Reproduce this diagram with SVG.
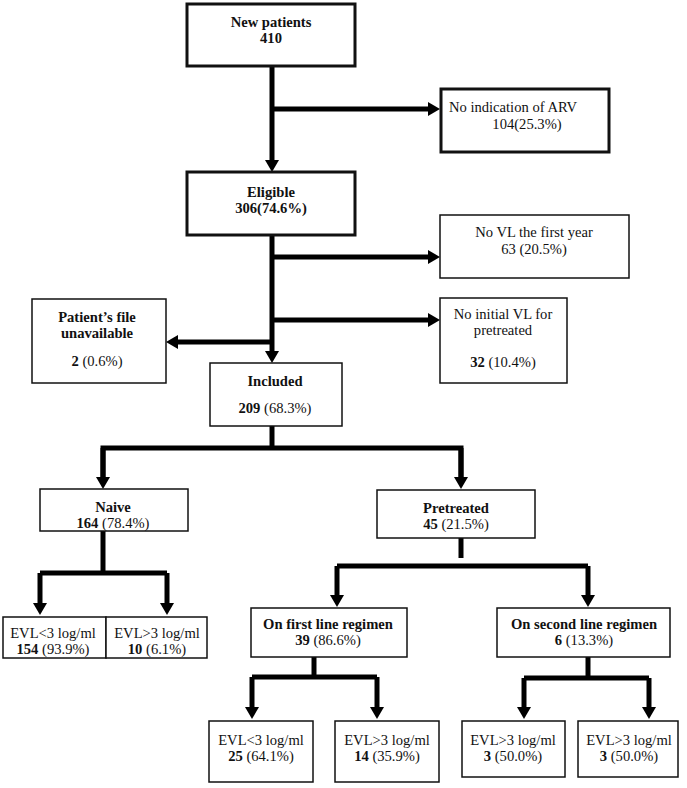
<svg xmlns="http://www.w3.org/2000/svg" width="687" height="788" viewBox="0 0 687 788">
<style>
  .box{fill:#fff;stroke:#111;stroke-width:1.5}
  .thick{stroke-width:3}
  .t{font-family:"Liberation Serif","DejaVu Serif",serif;font-size:14.6px;fill:#111;text-anchor:middle}
  .b{font-weight:bold}
  .c{fill:none;stroke:#000;stroke-width:5;stroke-linejoin:miter}
</style>
<defs>
  <marker id="ah" markerUnits="userSpaceOnUse" markerWidth="14" markerHeight="16" refX="4" refY="8" orient="auto">
    <path d="M0,1 L12,8 L0,15 z" fill="#000"/>
  </marker>
</defs>
<rect width="687" height="788" fill="#fff"/>

<g id="connectors">
  <path class="c" d="M272,66 V164" marker-end="url(#ah)"/>
  <path class="c" d="M272,109 H432" marker-end="url(#ah)"/>
  <path class="c" d="M272,235 V355" marker-end="url(#ah)"/>
  <path class="c" d="M272,257 H432" marker-end="url(#ah)"/>
  <path class="c" d="M272,320 H432" marker-end="url(#ah)"/>
  <path class="c" d="M272,342 H174" marker-end="url(#ah)"/>
  <path class="c" d="M272,426 V448"/>
  <path class="c" d="M103,481 V448 H461 V481"/>
  <path class="c" d="M103,448 V481" marker-end="url(#ah)"/>
  <path class="c" d="M461,448 V481" marker-end="url(#ah)"/>
  <path class="c" d="M103,531 V573"/>
  <path class="c" d="M40,573 H167"/>
  <path class="c" d="M40,573 V607" marker-end="url(#ah)"/>
  <path class="c" d="M167,573 V607" marker-end="url(#ah)"/>
  <path class="c" d="M461,538 V558"/>
  <path class="c" d="M337,566 H588"/>
  <path class="c" d="M337,566 V599" marker-end="url(#ah)"/>
  <path class="c" d="M588,566 V599" marker-end="url(#ah)"/>
  <path class="c" d="M314,657 V677"/>
  <path class="c" d="M252,677 H377"/>
  <path class="c" d="M252,677 V711" marker-end="url(#ah)"/>
  <path class="c" d="M377,677 V711" marker-end="url(#ah)"/>
  <path class="c" d="M588,657 V678"/>
  <path class="c" d="M524,678 H649"/>
  <path class="c" d="M524,678 V711" marker-end="url(#ah)"/>
  <path class="c" d="M649,678 V711" marker-end="url(#ah)"/>
</g>

<g id="new-patients">
  <rect class="box thick" x="187" y="4" width="168" height="62"/>
  <text class="t b" x="271" y="27">New patients</text>
  <text class="t b" x="271" y="43">410</text>
</g>
<g id="no-indication">
  <rect class="box thick" x="441" y="89" width="168" height="63"/>
  <text class="t" x="513" y="112">No indication of ARV</text>
  <text class="t" x="527" y="129">104(25.3%)</text>
</g>
<g id="eligible">
  <rect class="box thick" x="187" y="172" width="168" height="63"/>
  <text class="t b" x="271" y="197">Eligible</text>
  <text class="t b" x="271" y="213">306(74.6%)</text>
</g>
<g id="no-vl-first-year">
  <rect class="box" x="440" y="215" width="189" height="63"/>
  <text class="t" x="534" y="237">No VL the first year</text>
  <text class="t" x="534" y="254">63 (20.5%)</text>
</g>
<g id="no-initial-vl">
  <rect class="box" x="440" y="298" width="127" height="85"/>
  <text class="t" x="503" y="319">No initial VL for</text>
  <text class="t" x="503" y="335">pretreated</text>
  <text class="t" x="503" y="367"><tspan class="b">32</tspan> (10.4%)</text>
</g>
<g id="patient-file">
  <rect class="box" x="32" y="299" width="134" height="84"/>
  <text class="t b" x="97" y="322">Patient’s file</text>
  <text class="t b" x="97" y="338">unavailable</text>
  <text class="t" x="97" y="366"><tspan class="b">2</tspan> (0.6%)</text>
</g>
<g id="included">
  <rect class="box" x="210" y="363" width="132" height="63"/>
  <text class="t b" x="275" y="386">Included</text>
  <text class="t" x="275" y="413"><tspan class="b">209</tspan> (68.3%)</text>
</g>
<g id="naive">
  <rect class="box" x="40" y="489" width="148" height="42"/>
  <text class="t b" x="113" y="512">Naive</text>
  <text class="t" x="113" y="528"><tspan class="b">164</tspan> (78.4%)</text>
</g>
<g id="pretreated">
  <rect class="box" x="377" y="490" width="158" height="48"/>
  <text class="t b" x="456" y="513">Pretreated</text>
  <text class="t" x="456" y="529"><tspan class="b">45</tspan> (21.5%)</text>
</g>
<g id="naive-evl-low">
  <rect class="box" x="3" y="617" width="103" height="41"/>
  <text class="t" x="53" y="638">EVL&lt;3 log/ml</text>
  <text class="t" x="53" y="654"><tspan class="b">154</tspan> (93.9%)</text>
</g>
<g id="naive-evl-high">
  <rect class="box" x="106" y="617" width="101" height="41"/>
  <text class="t" x="157" y="638">EVL&gt;3 log/ml</text>
  <text class="t" x="157" y="654"><tspan class="b">10</tspan> (6.1%)</text>
</g>
<g id="first-line">
  <rect class="box" x="251" y="608" width="156" height="49"/>
  <text class="t b" x="328" y="629">On first line regimen</text>
  <text class="t" x="328" y="645"><tspan class="b">39</tspan> (86.6%)</text>
</g>
<g id="second-line">
  <rect class="box" x="497" y="608" width="173" height="49"/>
  <text class="t b" x="584" y="629">On second line regimen</text>
  <text class="t" x="584" y="645"><tspan class="b">6</tspan> (13.3%)</text>
</g>
<g id="first-evl-low">
  <rect class="box" x="209" y="721" width="104" height="61"/>
  <text class="t" x="261" y="745">EVL&lt;3 log/ml</text>
  <text class="t" x="261" y="761"><tspan class="b">25</tspan> (64.1%)</text>
</g>
<g id="first-evl-high">
  <rect class="box" x="335" y="721" width="104" height="61"/>
  <text class="t" x="387" y="745">EVL&gt;3 log/ml</text>
  <text class="t" x="387" y="761"><tspan class="b">14</tspan> (35.9%)</text>
</g>
<g id="second-evl-a">
  <rect class="box" x="462" y="721" width="103" height="56"/>
  <text class="t" x="513" y="745">EVL&gt;3 log/ml</text>
  <text class="t" x="513" y="761"><tspan class="b">3</tspan> (50.0%)</text>
</g>
<g id="second-evl-b">
  <rect class="box" x="578" y="721" width="100" height="56"/>
  <text class="t" x="629" y="745">EVL&gt;3 log/ml</text>
  <text class="t" x="629" y="761"><tspan class="b">3</tspan> (50.0%)</text>
</g>
</svg>
